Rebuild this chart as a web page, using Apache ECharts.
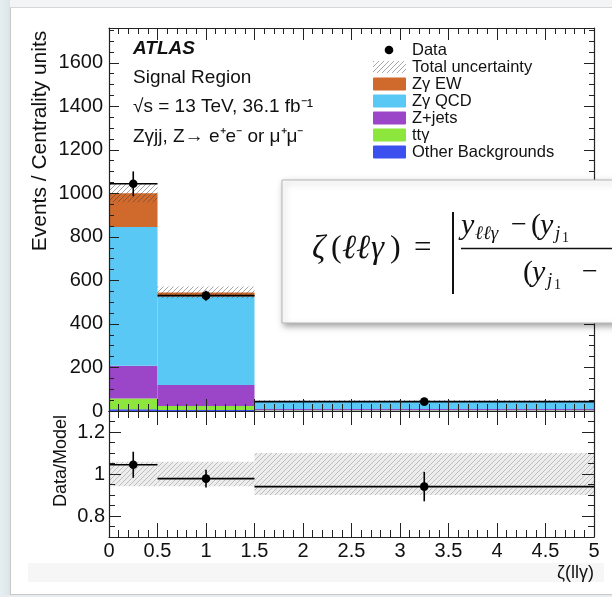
<!DOCTYPE html>
<html><head><meta charset="utf-8">
<script src="https://cdn.jsdelivr.net/npm/echarts@6.0.0/dist/echarts.min.js"></script>
<style>html,body{margin:0;padding:0;background:#fff;}#c{width:612px;height:597px;}</style>
</head><body><div id="c"></div><script>
// ---------------- data ----------------
const binEdges = [0, 0.5, 1.5, 5];
const otherBkg = [8, 5, 1];
const ttGamma = [50, 18, 2];
const zJets = [150, 97, 6];
const zgQCD = [638, 406, 34];
const zgEW = [155, 19, 3];
const totalUnc = [42, 27, 4];
const dataX = [0.25, 1.0, 3.25];
const dataY = [1044, 530, 43];
const dataErr = [57, 23, 4];
const ratioY = [1.044, 0.978, 0.94];
const ratioErr = [0.062, 0.042, 0.07];
const ratioUnc = [0.058, 0.058, 0.1];
const xTickLabels = [0, 0.5, 1, 1.5, 2, 2.5, 3, 3.5, 4, 4.5, 5];
const yTickLabels = [0, 200, 400, 600, 800, 1000, 1200, 1400, 1600];
const ratioTickLabels = [0.8, 1, 1.2];
const legendNames = ['Data', 'Total uncertainty', 'Zγ EW', 'Zγ QCD', 'Z+jets', 'ttγ', 'Other Backgrounds'];
const legendColors = [null, null, '#d0692c', '#5ac8f5', '#9b46c8', '#8ce63c', '#3c50f0'];

// ---------------- helpers ----------------
function hatch(bg, fg, step) {
  const c = document.createElement('canvas'); c.width = step; c.height = step;
  const g = c.getContext('2d');
  if (bg) { g.fillStyle = bg; g.fillRect(0, 0, step, step); }
  g.strokeStyle = fg; g.lineWidth = 1; g.beginPath();
  g.moveTo(0, step); g.lineTo(step, 0);
  g.moveTo(-step, step); g.lineTo(step, -step);
  g.moveTo(0, 2 * step); g.lineTo(2 * step, 0);
  g.stroke();
  return c;
}
const hatchUpper = { image: hatch(null, 'rgba(60,60,60,0.45)', 5), repeat: 'repeat' };
const hatchLower = { image: hatch('#ededed', '#bdbdbd', 5), repeat: 'repeat' };

function rectRender(fill) {
  return function (params, api) {
    const p0 = api.coord([api.value(0), api.value(3)]);
    const p1 = api.coord([api.value(1), api.value(2)]);
    return { type: 'rect', shape: { x: p0[0], y: p0[1], width: p1[0] - p0[0], height: p1[1] - p0[1] }, style: { fill: fill } };
  };
}
function pointRender(params, api) {
  const x = api.value(0), y = api.value(1), xl = api.value(2), xh = api.value(3), e = api.value(4);
  const c = api.coord([x, y]), l = api.coord([xl, y]), r = api.coord([xh, y]);
  const t = api.coord([x, y + e]), b = api.coord([x, y - e]);
  const ls = { stroke: '#000', lineWidth: 1.6 };
  return { type: 'group', children: [
    { type: 'line', shape: { x1: l[0], y1: c[1], x2: r[0], y2: c[1] }, style: ls },
    { type: 'line', shape: { x1: c[0], y1: t[1], x2: c[0], y2: b[1] }, style: ls },
    { type: 'circle', shape: { cx: c[0], cy: c[1], r: 4.3 }, style: { fill: '#000' } }
  ] };
}

// ---------------- series ----------------
const stackDefs = [
  { vals: otherBkg, color: legendColors[6], name: legendNames[6] },
  { vals: ttGamma, color: legendColors[5], name: legendNames[5] },
  { vals: zJets, color: legendColors[4], name: legendNames[4] },
  { vals: zgQCD, color: legendColors[3], name: legendNames[3] },
  { vals: zgEW, color: legendColors[2], name: legendNames[2] }
];
const base = binEdges.slice(1).map(() => 0);
const series = [];
stackDefs.forEach(d => {
  const data = d.vals.map((v, i) => { const r = [binEdges[i], binEdges[i + 1], base[i], base[i] + v]; base[i] += v; return r; });
  series.push({ type: 'custom', name: d.name, xAxisIndex: 0, yAxisIndex: 0, z: 2, clip: true, data: data,
    encode: { x: [0, 1], y: [2, 3] }, renderItem: rectRender(d.color) });
});
series.push({ type: 'custom', name: 'Total uncertainty', xAxisIndex: 0, yAxisIndex: 0, z: 3, clip: true,
  data: base.map((t, i) => [binEdges[i], binEdges[i + 1], t - totalUnc[i], t + totalUnc[i]]),
  encode: { x: [0, 1], y: [2, 3] }, renderItem: rectRender(hatchUpper) });
series.push({ type: 'custom', name: 'Data', xAxisIndex: 0, yAxisIndex: 0, z: 4, clip: true,
  data: dataX.map((x, i) => [x, dataY[i], binEdges[i], binEdges[i + 1], dataErr[i]]),
  encode: { x: 0, y: 1 }, renderItem: pointRender });
series.push({ type: 'custom', name: 'Ratio band', xAxisIndex: 4, yAxisIndex: 4, z: 3, clip: true,
  data: ratioUnc.map((u, i) => [binEdges[i], binEdges[i + 1], 1 - u, 1 + u]),
  encode: { x: [0, 1], y: [2, 3] }, renderItem: rectRender(hatchLower) });
series.push({ type: 'custom', name: 'Ratio', xAxisIndex: 4, yAxisIndex: 4, z: 4, clip: true,
  data: dataX.map((x, i) => [x, ratioY[i], binEdges[i], binEdges[i + 1], ratioErr[i]]),
  encode: { x: 0, y: 1 }, renderItem: pointRender });

// ---------------- axes ----------------
const lineCol = '#222';
const labelFont = { fontFamily: 'Liberation Sans', fontSize: 20, color: '#111' };
function ax(o) {
  return {
    type: 'value', gridIndex: o.grid, position: o.pos, min: o.min, max: o.max, interval: o.interval, z: 10,
    axisLine: { show: !o.minor, onZero: false, lineStyle: { color: lineCol, width: 1.2 } },
    axisTick: Object.assign({ show: true, inside: true, length: o.len, lineStyle: { color: lineCol, width: 1 } },
      o.custom ? { customValues: o.custom } : {}),
    axisLabel: o.labels ? Object.assign({ show: true, margin: o.margin, showMinLabel: true, showMaxLabel: true,
      formatter: v => (o.labels.some(l => Math.abs(l - v) < 1e-9) ? String(+v.toFixed(2)) : '') }, labelFont,
      o.custom ? { customValues: o.custom } : {}) : { show: false },
    splitLine: { show: false }, minorTick: { show: false }
  };
}
const xAxes = [
  ax({ grid: 0, pos: 'bottom', min: 0, max: 5, interval: 0.5, len: 12 }),
  ax({ grid: 0, pos: 'bottom', min: 0, max: 5, interval: 0.1, len: 7, minor: true }),
  ax({ grid: 0, pos: 'top', min: 0, max: 5, interval: 0.5, len: 12 }),
  ax({ grid: 0, pos: 'top', min: 0, max: 5, interval: 0.1, len: 6, minor: true }),
  ax({ grid: 1, pos: 'bottom', min: 0, max: 5, interval: 0.5, len: 14, labels: xTickLabels, margin: 4 }),
  ax({ grid: 1, pos: 'bottom', min: 0, max: 5, interval: 0.1, len: 7, minor: true }),
  ax({ grid: 1, pos: 'top', min: 0, max: 5, interval: 0.5, len: 14 }),
  ax({ grid: 1, pos: 'top', min: 0, max: 5, interval: 0.1, len: 7, minor: true })
];
const yAxes = [
  ax({ grid: 0, pos: 'left', min: 0, max: 1760, interval: 200, len: 10, labels: yTickLabels, margin: 6 }),
  ax({ grid: 0, pos: 'left', min: 0, max: 1760, interval: 50, len: 5, minor: true }),
  ax({ grid: 0, pos: 'right', min: 0, max: 1760, interval: 200, len: 10 }),
  ax({ grid: 0, pos: 'right', min: 0, max: 1760, interval: 50, len: 5, minor: true }),
  ax({ grid: 1, pos: 'left', min: 0.7, max: 1.3, interval: 0.1, len: 12, labels: ratioTickLabels, margin: 4, custom: ratioTickLabels }),
  ax({ grid: 1, pos: 'left', min: 0.7, max: 1.3, interval: 0.05, len: 6, minor: true }),
  ax({ grid: 1, pos: 'right', min: 0.7, max: 1.3, interval: 0.1, len: 12, custom: ratioTickLabels }),
  ax({ grid: 1, pos: 'right', min: 0.7, max: 1.3, interval: 0.05, len: 6, minor: true })
];

// ---------------- graphics (frame, texts, legend, formula) ----------------
function txt(x, y, text, font, extra) {
  return Object.assign({ type: 'text', x: x, y: y, z: 50,
    style: Object.assign({ text: text, font: font, fill: '#111', align: 'left', verticalAlign: 'middle',
      textAlign: 'left', textVerticalAlign: 'middle' }, extra || {}) });
}
const sans = 'Liberation Sans, Arial, sans-serif';
const serif = 'Liberation Serif, Times New Roman, serif';
const graphics = [
  { type: 'rect', z: 1, shape: { x: 0, y: 0, width: 612, height: 7 }, style: { fill: '#f2f4f6' } },
  { type: 'rect', z: 1, shape: { x: 0, y: 0, width: 10, height: 597 },
    style: { fill: { type: 'linear', x: 0, y: 0, x2: 1, y2: 0, colorStops: [{ offset: 0, color: '#e6eef0' }, { offset: 1, color: '#dbe5e8' }] } } },
  { type: 'rect', z: 1, shape: { x: 0, y: 595, width: 612, height: 2 }, style: { fill: '#e9ecee' } },
  { type: 'line', z: 1, shape: { x1: 10.5, y1: 7, x2: 10.5, y2: 595 }, style: { stroke: '#c9c9c9', lineWidth: 1 } },
  { type: 'line', z: 1, shape: { x1: 10, y1: 7.5, x2: 612, y2: 7.5 }, style: { stroke: '#d6d6d6', lineWidth: 1 } },
  { type: 'line', z: 1, shape: { x1: 10, y1: 594.5, x2: 612, y2: 594.5 }, style: { stroke: '#c9c9c9', lineWidth: 1 } },
  { type: 'rect', z: 1, shape: { x: 28, y: 563, width: 576, height: 19 }, style: { fill: '#f6f6f6' } },
  txt(594, 573, 'ζ(llγ)', '18px ' + sans, { align: 'right', textAlign: 'right' }),
  Object.assign(txt(40, 141, 'Events / Centrality units', '21px ' + sans, { align: 'center', textAlign: 'center' }), { rotation: Math.PI / 2 }),
  Object.assign(txt(61, 461, 'Data/Model', '18px ' + sans, { align: 'center', textAlign: 'center' }), { rotation: Math.PI / 2 }),
  txt(133, 49, 'ATLAS', 'italic bold 19px ' + sans),
  txt(133, 78, 'Signal Region', '19px ' + sans),
  txt(133, 107, '√s = 13 TeV, 36.1 fb⁻¹', '19px ' + sans),
  txt(133, 137, 'Zγjj, Z→ e⁺e⁻ or μ⁺μ⁻', '19px ' + sans)
];
legendNames.forEach((n, i) => {
  const y = 50 + 17 * i;
  graphics.push(txt(412, y, n, '16.5px ' + sans));
  if (i === 0) graphics.push({ type: 'circle', z: 50, shape: { cx: 389, cy: y, r: 4.3 }, style: { fill: '#000' } });
  else if (i === 1) graphics.push({ type: 'rect', z: 50, shape: { x: 373, y: y - 6, width: 33, height: 12 }, style: { fill: hatchUpper } });
  else graphics.push({ type: 'rect', z: 50, shape: { x: 373, y: y - 6.5, width: 33, height: 13, r: 1 }, style: { fill: legendColors[i] } });
});
// formula overlay box
const fz = 100;
function ftxt(x, y, t, size, italic) {
  const o = txt(x, y, t, (italic ? 'italic ' : '') + size + 'px ' + serif);
  o.z = fz + 1; o.style.fill = '#111'; return o;
}
const fy = 249, ny = 226, dy = 273;
graphics.push(
  { type: 'rect', z: fz, shape: { x: 282, y: 180, width: 400, height: 143 },
    style: { fill: '#fff', stroke: '#b5b5b5', lineWidth: 1, shadowBlur: 6, shadowOffsetX: 2, shadowOffsetY: 3, shadowColor: 'rgba(0,0,0,0.35)' } },
  ftxt(312, fy, 'ζ', 33, true), ftxt(331, fy, '(', 32, false), ftxt(342, fy, 'ℓ', 34, true), ftxt(356, fy, 'ℓ', 34, true),
  ftxt(371, fy, 'γ', 33, true), ftxt(390, fy, ')', 32, false),
  ftxt(414, fy, '=', 31, false),
  { type: 'line', z: fz + 1, shape: { x1: 453, y1: 212, x2: 453, y2: 294 }, style: { stroke: '#111', lineWidth: 2 } },
  { type: 'line', z: fz + 1, shape: { x1: 461, y1: 248.5, x2: 760, y2: 248.5 }, style: { stroke: '#111', lineWidth: 1.5 } },
  ftxt(461, ny, 'y', 30, true), ftxt(475, ny + 8, 'ℓℓγ', 19, true), ftxt(511, ny, '−', 28, false),
  ftxt(531, ny, '(', 30, false), ftxt(540, ny, 'y', 30, true), ftxt(555, ny + 8, 'j', 19, true), ftxt(562, ny + 12, '1', 14, false),
  ftxt(616, ny, '+', 30, false),
  ftxt(523, dy, '(', 30, false), ftxt(532, dy, 'y', 30, true), ftxt(547, dy + 8, 'j', 19, true), ftxt(554, dy + 12, '1', 14, false),
  ftxt(582, dy, '−', 28, false)
);

const chart = echarts.init(document.getElementById('c'), null, { renderer: 'canvas' });
chart.setOption({
  backgroundColor: '#ffffff',
  animation: false,
  grid: [
    { left: 109, top: 28, width: 485, height: 383 },
    { left: 109, top: 411, width: 485, height: 126 }
  ],
  xAxis: xAxes,
  yAxis: yAxes,
  series: series,
  graphic: graphics
});
</script></body></html>
